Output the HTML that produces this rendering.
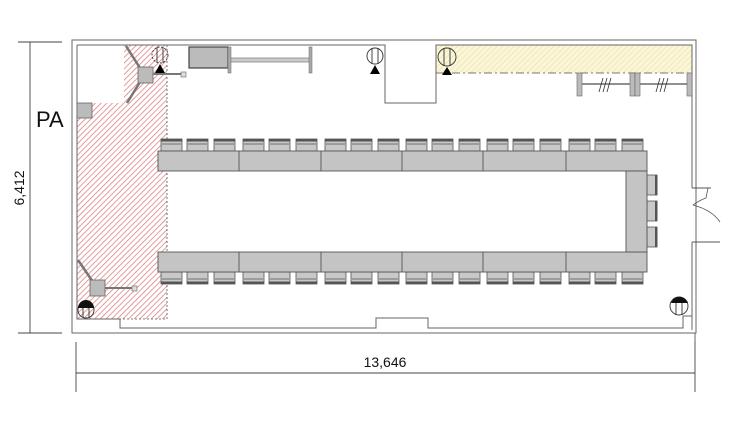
<!DOCTYPE html>
<html><head><meta charset="utf-8"><style>html,body{margin:0;padding:0;background:#fff}svg{display:block}</style></head>
<body>
<svg width="750" height="425" viewBox="0 0 750 425" xmlns="http://www.w3.org/2000/svg" font-family="Liberation Sans, sans-serif">
<defs>
<pattern id="pk" width="4" height="4" patternUnits="userSpaceOnUse" patternTransform="rotate(45)">
<rect width="4" height="4" fill="#fff"/><line x1="0" y1="0" x2="0" y2="4" stroke="#dc7c7c" stroke-width="1.5"/></pattern>
<pattern id="yl" width="4" height="4" patternUnits="userSpaceOnUse" patternTransform="rotate(45)">
<rect width="4" height="4" fill="#fbf6d8"/><line x1="0" y1="0" x2="0" y2="4" stroke="#e6dca0" stroke-width="1"/></pattern>
<g id="chU"><rect x="0" y="0" width="21" height="12" fill="#c8c8c8" stroke="#555" stroke-width="0.8"/><rect x="0" y="0" width="21" height="2.5" fill="#555"/><line x1="1" y1="5" x2="20" y2="5" stroke="#555" stroke-width="0.7"/></g>
<g id="chD"><rect x="0" y="0" width="21" height="12" fill="#c8c8c8" stroke="#555" stroke-width="0.8"/><rect x="0" y="9.5" width="21" height="2.5" fill="#555"/><line x1="1" y1="7" x2="20" y2="7" stroke="#555" stroke-width="0.7"/></g>
</defs>
<polygon points="124,45 167,45 167,319 77,319 77,103 124,103" fill="url(#pk)"/>
<polyline points="167,45 167,319 77,319" fill="none" stroke="#555" stroke-width="0.8" stroke-dasharray="2,2"/>
<rect x="436" y="45" width="256" height="28" fill="url(#yl)"/>
<line x1="436" y1="73" x2="692" y2="73" stroke="#777" stroke-width="1" stroke-dasharray="8,3,2,3"/>
<rect x="72" y="40" width="624" height="293" fill="none" stroke="#666" stroke-width="1"/>
<polyline points="77,45 385,45 385,103 436,103 436,45 692,45 692,188" fill="none" stroke="#666" stroke-width="1"/>
<polyline points="692,242 692,330" fill="none" stroke="#666" stroke-width="1"/>
<polyline points="77,45 77,319 120,319 120,328 376,328 376,318 428,318 428,328 683,328 683,316 692,316" fill="none" stroke="#666" stroke-width="1"/>
<line x1="695" y1="333" x2="695" y2="342" stroke="#666"/>
<line x1="692" y1="188" x2="711" y2="188" stroke="#555"/>
<line x1="692" y1="242" x2="720" y2="242" stroke="#555"/>
<path d="M708,188 L706,198 Q700,200 693,205" fill="none" stroke="#555" stroke-width="0.8"/>
<path d="M693,205 Q712,210 720,222" fill="none" stroke="#555" stroke-width="0.8"/>
<rect x="77" y="103" width="15" height="15" fill="#bbb" stroke="#666" stroke-width="0.8"/>
<text x="36" y="127" font-size="22" fill="#111">PA</text>
<line x1="126" y1="46" x2="140" y2="68" stroke="#777" stroke-width="2.5"/>
<line x1="140" y1="82" x2="127" y2="103" stroke="#777" stroke-width="2.5"/>
<rect x="138" y="67" width="15" height="16" fill="#bbb" stroke="#666" stroke-width="0.8"/>
<line x1="153" y1="74" x2="182" y2="74" stroke="#777" stroke-width="2"/>
<rect x="181" y="72" width="5" height="5" fill="#ddd" stroke="#666" stroke-width="0.6"/>
<line x1="78" y1="260" x2="93" y2="282" stroke="#777" stroke-width="2.5"/>
<rect x="90" y="280" width="15" height="16" fill="#bbb" stroke="#666" stroke-width="0.8"/>
<line x1="105" y1="288" x2="133" y2="288" stroke="#777" stroke-width="2"/>
<rect x="132" y="286" width="5" height="5" fill="#ddd" stroke="#666" stroke-width="0.6"/>
<rect x="189" y="47" width="39" height="21" fill="#bbb" stroke="#444" stroke-width="1.2"/>
<rect x="230" y="58" width="80" height="4" fill="#ccc" stroke="#666" stroke-width="0.6"/>
<rect x="228" y="47" width="3" height="26" fill="#aaa" stroke="#666" stroke-width="0.5"/>
<rect x="309" y="47" width="3" height="26" fill="#aaa" stroke="#666" stroke-width="0.5"/>
<g fill="none" stroke="#333" stroke-width="0.9">
<circle cx="160" cy="55" r="8" stroke-dasharray="2,1.5"/><line x1="157" y1="47" x2="157" y2="63"/><line x1="163" y1="47" x2="163" y2="63"/>
<circle cx="375" cy="56" r="8"/><line x1="372" y1="48" x2="372" y2="64"/><line x1="378" y1="48" x2="378" y2="64"/>
<circle cx="447" cy="57" r="9"/><line x1="444" y1="48" x2="444" y2="66"/><line x1="450" y1="48" x2="450" y2="66"/>
<circle cx="86" cy="310" r="8"/><line x1="83" y1="302" x2="83" y2="318"/><line x1="89" y1="302" x2="89" y2="318"/>
<circle cx="679" cy="306" r="9"/><line x1="676" y1="300" x2="676" y2="315"/><line x1="682" y1="300" x2="682" y2="315"/>
</g>
<path d="M78,308 A8,8 0 0 1 94,308 Z" fill="#111"/>
<path d="M671,303 A9,9 0 0 1 688,303 Z" fill="#111"/>
<polygon points="160,64 155,73 165,73" fill="#000"/>
<polygon points="375,65 370,74 380,74" fill="#000"/>
<polygon points="447,67 442,75 452,75" fill="#000"/>
<line x1="577" y1="84" x2="692" y2="84" stroke="#222" stroke-width="1"/>
<g fill="#bbb" stroke="#666" stroke-width="0.6">
<rect x="577" y="73" width="5" height="23"/><rect x="630" y="73" width="5" height="23"/><rect x="635" y="73" width="5" height="23"/><rect x="687" y="73" width="5" height="23"/>
</g>
<g stroke="#333" stroke-width="0.8">
<line x1="599" y1="92" x2="603" y2="78"/><line x1="603" y1="92" x2="607" y2="78"/><line x1="607" y1="92" x2="611" y2="78"/>
<line x1="656" y1="92" x2="660" y2="78"/><line x1="660" y1="92" x2="664" y2="78"/><line x1="664" y1="92" x2="668" y2="78"/>
</g>
<g>
<use href="#chU" x="161" y="139"/><use href="#chU" x="187" y="139"/><use href="#chU" x="214" y="139"/>
<use href="#chU" x="243" y="139"/><use href="#chU" x="269" y="139"/><use href="#chU" x="296" y="139"/>
<use href="#chU" x="325" y="139"/><use href="#chU" x="351" y="139"/><use href="#chU" x="378" y="139"/>
<use href="#chU" x="406" y="139"/><use href="#chU" x="432" y="139"/><use href="#chU" x="459" y="139"/>
<use href="#chU" x="487" y="139"/><use href="#chU" x="513" y="139"/><use href="#chU" x="540" y="139"/>
<use href="#chU" x="569" y="139"/><use href="#chU" x="595" y="139"/><use href="#chU" x="622" y="139"/>
</g>
<g>
<use href="#chD" x="161" y="272"/><use href="#chD" x="187" y="272"/><use href="#chD" x="214" y="272"/>
<use href="#chD" x="243" y="272"/><use href="#chD" x="269" y="272"/><use href="#chD" x="296" y="272"/>
<use href="#chD" x="325" y="272"/><use href="#chD" x="351" y="272"/><use href="#chD" x="378" y="272"/>
<use href="#chD" x="406" y="272"/><use href="#chD" x="432" y="272"/><use href="#chD" x="459" y="272"/>
<use href="#chD" x="487" y="272"/><use href="#chD" x="513" y="272"/><use href="#chD" x="540" y="272"/>
<use href="#chD" x="569" y="272"/><use href="#chD" x="595" y="272"/><use href="#chD" x="622" y="272"/>
</g>
<g fill="#c8c8c8" stroke="#555" stroke-width="0.8">
<rect x="647" y="175" width="10" height="20"/><rect x="647" y="201" width="10" height="20"/><rect x="647" y="227" width="10" height="20"/>
</g>
<g fill="#555"><rect x="655" y="175" width="2.5" height="20"/><rect x="655" y="201" width="2.5" height="20"/><rect x="655" y="227" width="2.5" height="20"/></g>
<g fill="#c4c4c4" stroke="#555" stroke-width="0.9">
<rect x="158" y="151" width="489" height="20"/>
<rect x="158" y="252" width="489" height="20"/>
<rect x="626" y="171" width="21" height="81"/>
</g>
<g stroke="#555" stroke-width="0.9">
<line x1="239" y1="151" x2="239" y2="171"/><line x1="321" y1="151" x2="321" y2="171"/><line x1="402" y1="151" x2="402" y2="171"/><line x1="483" y1="151" x2="483" y2="171"/><line x1="566" y1="151" x2="566" y2="171"/>
<line x1="239" y1="252" x2="239" y2="272"/><line x1="321" y1="252" x2="321" y2="272"/><line x1="402" y1="252" x2="402" y2="272"/><line x1="483" y1="252" x2="483" y2="272"/><line x1="566" y1="252" x2="566" y2="272"/>
</g>
<g stroke="#444" stroke-width="0.9">
<line x1="30" y1="42" x2="30" y2="333"/>
<line x1="18" y1="42" x2="62" y2="42"/><line x1="18" y1="333" x2="62" y2="333"/>
<line x1="76" y1="342" x2="76" y2="392"/><line x1="695" y1="342" x2="695" y2="392"/>
<line x1="76" y1="373" x2="695" y2="373"/>
</g>
<text x="0" y="0" font-size="14" fill="#111" text-anchor="middle" transform="translate(24,188) rotate(-90)">6,412</text>
<text x="385" y="367" font-size="14" fill="#111" text-anchor="middle">13,646</text>
</svg>
</body></html>
